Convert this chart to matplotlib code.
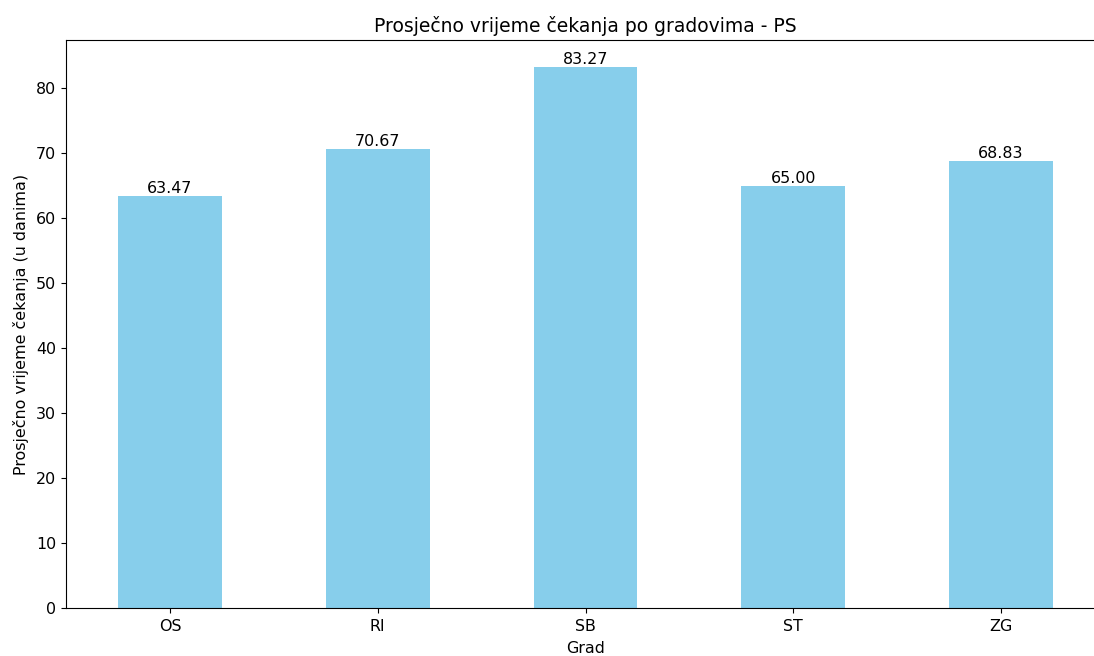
import matplotlib
matplotlib.use("Agg")
import matplotlib.pyplot as plt

cities = ["OS", "RI", "SB", "ST", "ZG"]
values = [63.47, 70.67, 83.27, 65.00, 68.83]

W, H = 1094, 656
fig = plt.figure(figsize=(W / 100, H / 100), dpi=100)
ax = fig.add_axes([66 / W, (H - 608) / H, 1039 / W, 568 / H])
x = list(range(len(cities)))
bars = ax.bar(x, values, width=0.5, color="skyblue")
fs = 11.4
for b, v in zip(bars, values):
    ax.text(b.get_x() + b.get_width() / 2, v, f"{v:.2f}", ha="center", va="bottom", fontsize=fs)
ax.set_xticks(x)
ax.set_xticklabels(cities, fontsize=fs)
ax.tick_params(axis="y", labelsize=fs)
ax.tick_params(axis="x", pad=4.5)
ax.set_xlim(-0.5, 4.5)
ax.set_ylim(0, max(values) * 1.05)
ax.set_xlabel("Grad", fontsize=fs, labelpad=5)
ax.set_ylabel("Prosječno vrijeme čekanja (u danima)", fontsize=fs, labelpad=5)
ax.set_title("Prosječno vrijeme čekanja po gradovima - PS", fontsize=13.5, pad=6)
fig.savefig("out.png", dpi=100)
